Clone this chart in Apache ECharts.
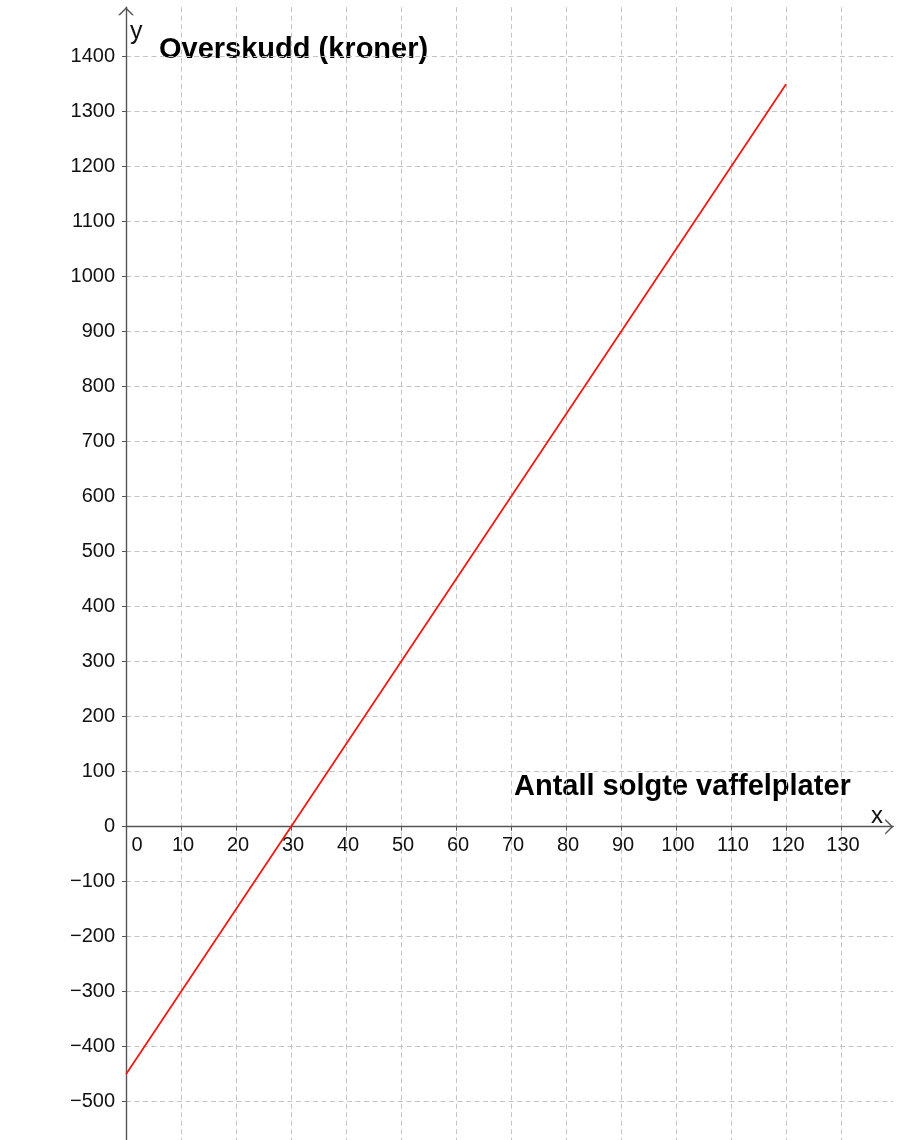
<!DOCTYPE html>
<html><head><meta charset="utf-8">
<script src="https://cdn.jsdelivr.net/npm/echarts@6/dist/echarts.min.js"></script>
<style>html,body{margin:0;padding:0;background:#fff}#c{width:900px;height:1140px}</style>
</head><body><div id="c"></div>
<script>
// Data
const lineX = [0, 120];
const lineY = [-450, 1350];
const yAxisTitle = 'Overskudd (kroner)';
const xAxisTitle = 'Antall solgte vaffelplater';
const xAxisName = 'x';
const yAxisName = 'y';
const xMin = 0, xMax = 139.5, xStep = 10;
const yMin = -600, yMax = 1490, yStep = 100;

const FONT = "'Liberation Sans', Arial, sans-serif";
const chart = echarts.init(document.getElementById('c'), null, {renderer: 'canvas'});
const arrowPath = 'path://M80,0 L160,80 L140,80 L80,20 L20,80 L0,80 Z';
const gridLine = {show: true, showMaxLine: false, lineStyle: {color: '#c4c4c4', type: [5, 3.5], width: 1}};
const axisLine = {show: true, onZero: false, lineStyle: {color: '#555', width: 1.4},
  symbol: ['none', arrowPath], symbolSize: [16, 8], symbolOffset: [0, -4]};
const minus = v => String(v).replace('-', '\u2212');

// layout: 0.55 px per y unit, 5.5 px per x unit
const gridTop = 7.2, gridH = (yMax - yMin) * 0.55;
const zeroOffset = -(-yMin) * 0.55; // move x axis up from bottom to y=0

chart.setOption({
  animation: false,
  backgroundColor: '#fff',
  grid: {left: 126, top: gridTop, width: (xMax - xMin) * 5.5, height: gridH, containLabel: false, outerBoundsMode: 'none'},
  xAxis: {
    type: 'value', min: xMin, max: xMax, interval: xStep,
    position: 'bottom', offset: zeroOffset,
    axisLine: axisLine,
    axisTick: {show: true, length: 4, lineStyle: {color: '#555'}},
    splitLine: gridLine,
    axisLabel: {
      showMaxLabel: false, margin: 9, color: '#111', fontSize: 20, fontFamily: FONT,
      padding: [0, 0, 0, 4],
      formatter: v => v === 0 ? '{z|0}' : minus(v),
      rich: {z: {fontSize: 20, fontFamily: FONT, color: '#111', padding: [0, 0, 0, 18]}}
    }
  },
  yAxis: {
    type: 'value', min: yMin, max: yMax, interval: yStep,
    position: 'left',
    axisLine: axisLine,
    axisTick: {show: true, length: 4, lineStyle: {color: '#555'}},
    splitLine: gridLine,
    axisLabel: {showMaxLabel: false, margin: 11, color: '#111', fontSize: 20, fontFamily: FONT,
      padding: [5, 0, 0, 0], formatter: minus}
  },
  series: [{
    type: 'line',
    data: lineX.map((x, i) => [x, lineY[i]]),
    showSymbol: false,
    lineStyle: {color: '#f01a10', width: 1.8},
    silent: true
  }],
  graphic: [
    {type: 'text', left: 159, top: 35.5, style: {text: yAxisTitle, font: "bold 29px " + FONT, fill: '#000'}},
    {type: 'text', left: 514, top: 772, style: {text: xAxisTitle, font: "bold 29px " + FONT, fill: '#000'}},
    {type: 'text', left: 130, top: 20, style: {text: yAxisName, font: "25px " + FONT, fill: '#111'}},
    {type: 'text', left: 871, top: 804, style: {text: xAxisName, font: "24px " + FONT, fill: '#111'}}
  ]
});
</script>
</body></html>
